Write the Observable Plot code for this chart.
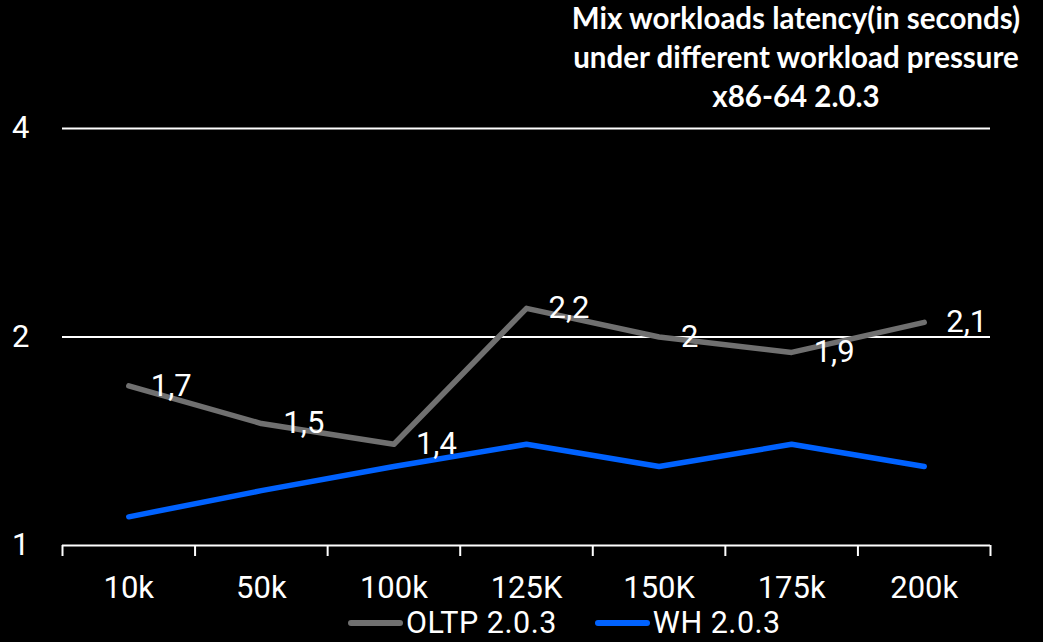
<!DOCTYPE html>
<html>
<head>
<meta charset="utf-8">
<script src="https://cdn.jsdelivr.net/npm/d3@7"></script>
<script src="https://cdn.jsdelivr.net/npm/@observablehq/plot@0.6"></script>
<style>
  html, body { margin: 0; padding: 0; background: #000; }
  #wrap { position: relative; width: 1043px; height: 642px; overflow: hidden; background: #000; font-family: Roboto, "Noto Sans", sans-serif; }
  #title { position: absolute; top: -2px; left: 560px; width: 472px; text-align: center; color: #fff; font-family: Lato, "Open Sans", sans-serif; font-weight: 700; font-size: 29.5px; line-height: 39px; white-space: nowrap; }
  #chart { position: absolute; top: 0; left: 0; }
  #legend { position: absolute; top: 609px; left: 348px; display: flex; align-items: center; color: #fff; font-size: 30.5px; line-height: 28px; font-weight: 400; letter-spacing: 0.5px; white-space: nowrap; }
  .sw { display: inline-block; width: 55px; height: 6px; border-radius: 3px; margin-right: 3px; }
</style>
</head>
<body>
<div id="wrap">
  <div id="chart"></div>
  <div id="title">Mix workloads latency(in seconds)<br>under different workload pressure<br>x86-64 2.0.3</div>
  <div id="legend"></div>
</div>
<script>
const categories = ["10k", "50k", "100k", "125K", "150K", "175k", "200k"];
const oltpValues = [1.7, 1.5, 1.4, 2.2, 2.0, 1.9, 2.1];
const whValues = [1.1, 1.2, 1.3, 1.4, 1.3, 1.4, 1.3];
const oltpLabels = ["1,7", "1,5", "1,4", "2,2", "2", "1,9", "2,1"];
const yTicks = [1, 2, 4];
const gridValues = [2, 4];
const seriesNames = ["OLTP 2.0.3", "WH 2.0.3"];
const seriesColors = ["#707070", "#0062ff"];

const oltp = categories.map((c, i) => ({cat: c, i: i + 0.5, v: oltpValues[i], label: oltpLabels[i]}));
const wh = categories.map((c, i) => ({cat: c, i: i + 0.5, v: whValues[i]}));

const W = 1043, H = 605;
const chart = Plot.plot({
  width: W,
  height: H,
  marginLeft: 62,
  marginRight: 53,
  marginTop: 128,
  marginBottom: H - 545,
  style: {background: "#000", color: "#fff", fontFamily: "Roboto, 'Noto Sans', sans-serif", fontWeight: 400, overflow: "visible"},
  x: {type: "linear", domain: [0, categories.length], axis: null, label: null},
  y: {type: "log", base: 2, domain: [1, 4], axis: null, label: null},
  marks: [
    Plot.ruleY(gridValues, {stroke: "#fff", strokeWidth: 1.8}),
    Plot.ruleY([1], {stroke: "#fff", strokeWidth: 2}),
    Plot.axisX({ticks: d3.range(categories.length + 1), tickSize: 11, tickFormat: () => "", label: null, stroke: "#fff", strokeWidth: 2}),
    Plot.axisX({ticks: d3.range(categories.length).map(i => i + 0.5), tickSize: 0, tickPadding: 30, label: null,
      tickFormat: d => categories[Math.floor(d)], fontSize: 31, fill: "#fff"}),
    Plot.axisY({ticks: yTicks, tickSize: 0, tickPadding: 33, label: null, tickFormat: d => String(d), fontSize: 31, fill: "#fff"}),
    Plot.line(oltp, {x: "i", y: "v", stroke: seriesColors[0], strokeWidth: 5.5, strokeLinecap: "round", strokeLinejoin: "round"}),
    Plot.line(wh, {x: "i", y: "v", stroke: seriesColors[1], strokeWidth: 5.5, strokeLinecap: "round", strokeLinejoin: "round"}),
    Plot.text(oltp, {x: "i", y: "v", text: "label", dx: 22, textAnchor: "start", fill: "#fff", fontSize: 31})
  ]
});
document.getElementById("chart").appendChild(chart);

const legend = document.getElementById("legend");
seriesNames.forEach((name, k) => {
  const item = document.createElement("span");
  item.style.display = "flex";
  item.style.alignItems = "center";
  item.style.marginRight = k === 0 ? "38px" : "0";
  const sw = document.createElement("span");
  sw.className = "sw";
  sw.style.background = seriesColors[k];
  item.appendChild(sw);
  item.appendChild(document.createTextNode(name));
  legend.appendChild(item);
});
</script>
</body>
</html>
